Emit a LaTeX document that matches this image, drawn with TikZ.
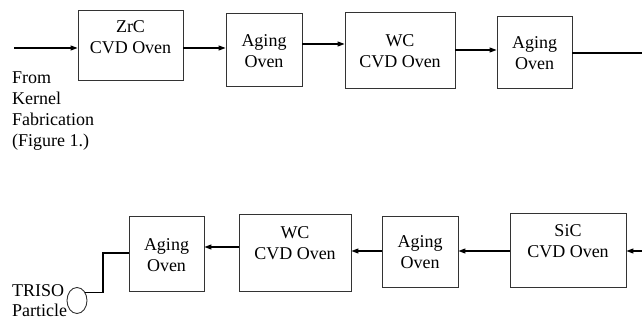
\documentclass[tikz,border=0pt]{standalone}
\usepackage{fontspec}
\setmainfont{Liberation Serif}
\usetikzlibrary{arrows.meta,shapes.geometric}
\tikzset{
  oven/.style={draw=black!80, line width=0.9pt, rectangle, inner sep=0pt},
  lbl/.style={align=center, inner sep=0pt, font=\fontsize{18}{21}\selectfont},
  side/.style={align=left, inner sep=0pt, anchor=west, font=\fontsize{18}{21}\selectfont},
  flow/.style={line width=1.1pt, -{Triangle[length=7pt,width=5pt]}},
  wire/.style={line width=1.1pt},
}
\begin{document}
\begin{tikzpicture}[x=1pt,y=-1pt]
\useasboundingbox (0,0) rectangle (642,320);
% boxes
\node[oven, minimum width=105pt, minimum height=70pt] (zrc) at (130.5,45) {};
\node[oven, minimum width=76pt, minimum height=73pt] (ag1) at (264,49.5) {};
\node[oven, minimum width=110pt, minimum height=76pt] (wc1) at (400,50) {};
\node[oven, minimum width=75pt, minimum height=72pt] (ag2) at (534.5,52) {};
\node[oven, minimum width=116pt, minimum height=74pt] (sic) at (568,250) {};
\node[oven, minimum width=76pt, minimum height=71pt] (ag3) at (420,251.5) {};
\node[oven, minimum width=112pt, minimum height=77pt] (wc2) at (295,252.5) {};
\node[oven, minimum width=75pt, minimum height=75pt] (ag4) at (166.5,253.5) {};
% labels
\node[lbl] (zrcT) at (130.5,37) {ZrC\\CVD Oven};
\node[lbl] (ag1T) at (264,51) {Aging\\Oven};
\node[lbl] (wc1T) at (400,51) {WC\\CVD Oven};
\node[lbl] (ag2T) at (534.5,53) {Aging\\Oven};
\node[lbl] (sicT) at (568,241) {SiC\\CVD Oven};
\node[lbl] (ag3T) at (420,252) {Aging\\Oven};
\node[lbl] (wc2T) at (295,243.5) {WC\\CVD Oven};
\node[lbl] (ag4T) at (166.5,255) {Aging\\Oven};
\node[side] (from) at (12,111) {From\\Kernel\\Fabrication\\(Figure 1.)};
\node[side, font=\fontsize{18}{20}\selectfont] (triso) at (12,300.5) {TRISO\\Particle};
% particle
\node[draw=black!80, line width=0.9pt, ellipse, minimum width=20pt, minimum height=26pt, inner sep=0pt] (el) at (77,300.5) {};
% free ends
\coordinate (in) at (14,48);
\coordinate (outR) at (642,53);
\coordinate (inR) at (642,251);
\coordinate (bend) at (103,253);
% connectors
\draw[flow] (in) -- (zrc.west |- in);
\draw[flow] (zrc.east |- 0,48) -- (ag1.west |- 0,48);
\draw[flow] (ag1.east |- 0,44) -- (wc1.west |- 0,44);
\draw[flow] (wc1.east |- 0,50) -- (ag2.west |- 0,50);
\draw[wire] (ag2.east |- outR) -- (outR);
\draw[flow] (inR) -- (sic.east |- inR);
\draw[flow] (sic.west |- 0,251) -- (ag3.east |- 0,251);
\draw[flow] (ag3.west |- 0,251) -- (wc2.east |- 0,251);
\draw[flow] (wc2.west |- 0,247) -- (ag4.east |- 0,247);
\draw[wire] (ag4.west |- bend) -- (bend) |- (el.45);
\end{tikzpicture}
\end{document}
